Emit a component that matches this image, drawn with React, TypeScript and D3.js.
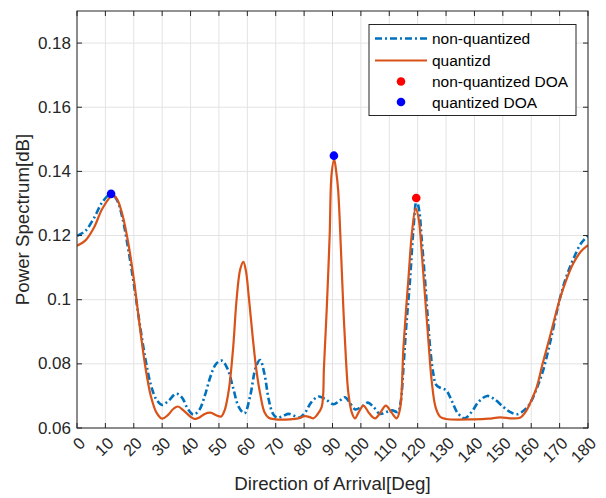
import React from "react";
import * as d3 from "d3";

const xTicks = [0, 10, 20, 30, 40, 50, 60, 70, 80, 90, 100, 110, 120, 130, 140, 150, 160, 170, 180];
const yTicks = [0.06, 0.08, 0.1, 0.12, 0.14, 0.16, 0.18];
const yTickLabels = ["0.06", "0.08", "0.1", "0.12", "0.14", "0.16", "0.18"];

const nonQuantAngles = [0, 3, 6, 9, 12, 14, 16, 18, 20, 22, 24, 26, 28, 30, 32, 35, 37, 39, 41, 43, 45, 47, 49, 51, 53, 55, 57, 59, 61, 63, 64.5, 66, 67.5, 69, 70.5, 72.5, 74.5, 76.5, 78.5, 80.5, 82.5, 85, 87.5, 90.3, 92.5, 94.4, 96, 98, 100, 102.5, 104.5, 106.7, 109, 111, 113, 114, 115, 116, 117.3, 118.5, 119.6, 120.5, 121.5, 122.6, 123.5, 124.5, 125.5, 126.5, 128, 130, 132, 134, 136.5, 139, 141.5, 144.5, 147, 150, 152.5, 155, 157.5, 159.6, 162, 164.2, 167, 170, 172.5, 175, 177.5, 180];
const nonQuantValues = [0.1199, 0.1215, 0.1255, 0.1305, 0.133, 0.1312, 0.1255, 0.116, 0.105, 0.093, 0.082, 0.0735, 0.0688, 0.0672, 0.0683, 0.0707, 0.0695, 0.066, 0.0642, 0.0655, 0.07, 0.076, 0.08, 0.081, 0.0785, 0.0725, 0.0665, 0.0646, 0.07, 0.079, 0.0812, 0.077, 0.069, 0.0645, 0.0632, 0.0637, 0.0644, 0.0638, 0.0633, 0.065, 0.068, 0.0698, 0.069, 0.0674, 0.0685, 0.0696, 0.068, 0.0658, 0.0665, 0.0679, 0.0665, 0.0644, 0.065, 0.0655, 0.065, 0.068, 0.079, 0.092, 0.106, 0.122, 0.131, 0.128, 0.118, 0.106, 0.095, 0.084, 0.077, 0.0735, 0.0725, 0.0718, 0.0685, 0.0648, 0.063, 0.065, 0.0682, 0.07, 0.069, 0.0667, 0.065, 0.0643, 0.0655, 0.0677, 0.0725, 0.078, 0.088, 0.1, 0.1075, 0.113, 0.1175, 0.1199];

const quantAngles = [0, 3, 6, 9, 12.5, 14, 16, 18, 20, 22, 24, 26, 28, 30, 32, 34, 35.5, 37.5, 40, 41.5, 43, 45, 47, 49, 50.8, 52, 53.5, 55, 56.2, 57.5, 58.6, 59.5, 60.5, 62, 63.2, 64.5, 66, 67.5, 70, 75, 78, 80.3, 82, 83.2, 84.5, 86.2, 87, 88, 89, 89.7, 90.6, 91.3, 92, 93, 93.8, 94.7, 95.6, 96.8, 97.9, 99.3, 100.9, 103, 105, 107, 108.8, 110.8, 112.6, 113.8, 115, 116, 116.7, 118, 119.3, 120.3, 121.5, 122.6, 123.8, 124.9, 126.3, 127.9, 130, 140, 145, 149, 153, 156, 158, 160, 162, 164, 166.6, 170, 172.5, 174.8, 177.5, 180];
const quantValues = [0.1168, 0.1185, 0.1225, 0.1285, 0.1325, 0.1315, 0.1265, 0.118, 0.1065, 0.0925, 0.0795, 0.07, 0.0648, 0.0629, 0.064, 0.066, 0.0667, 0.0655, 0.0635, 0.0628, 0.0632, 0.0644, 0.0648, 0.064, 0.0636, 0.0655, 0.072, 0.085, 0.0999, 0.1095, 0.1118, 0.109, 0.101, 0.0874, 0.078, 0.0708, 0.065, 0.0632, 0.0627, 0.0627, 0.063, 0.0637, 0.0634, 0.063, 0.064, 0.0666, 0.079, 0.0978, 0.12, 0.1394, 0.1437, 0.14, 0.134, 0.115, 0.0978, 0.082, 0.0708, 0.0648, 0.063, 0.065, 0.067, 0.0645, 0.063, 0.065, 0.067, 0.0648, 0.063, 0.066, 0.0853, 0.098, 0.106, 0.121, 0.1285, 0.1255, 0.114, 0.101, 0.087, 0.075, 0.0665, 0.0635, 0.0628, 0.0627, 0.0629, 0.0633, 0.063, 0.0632, 0.065, 0.0685, 0.0729, 0.08, 0.0885, 0.1, 0.1065, 0.1113, 0.115, 0.117];

const nonQuantDoaAngles = [119.5];
const nonQuantDoaValues = [0.1317];
const quantDoaAngles = [12, 90.5];
const quantDoaValues = [0.133, 0.1449];

const legendLabels = ["non-quantized", "quantizd", "non-quantized DOA", "quantized DOA"];

const W = 606, H = 498;
const M = { left: 77, right: 588, top: 11, bottom: 428 };
const BLUE = "#0072BD";
const ORANGE = "#D95319";
const AX = "#262626";
const FONT = "'Liberation Sans', Arial, Helvetica, sans-serif";

export default function App() {
  const x = d3.scaleLinear().domain([0, 180]).range([M.left, M.right]);
  const y = d3.scaleLinear().domain([0.06, 0.19]).range([M.bottom, M.top]);
  const line = d3
    .line<[number, number]>()
    .x((d) => x(d[0]))
    .y((d) => y(d[1]))
    .curve(d3.curveCatmullRom.alpha(0.5));
  const bluePath = line(nonQuantAngles.map((a, i) => [a, nonQuantValues[i]]) as [number, number][]) || "";
  const orangePath = line(quantAngles.map((a, i) => [a, quantValues[i]]) as [number, number][]) || "";
  const tl = 5;
  const lg = { x: 369, y: 24.5, w: 207, h: 91 };
  const rows = [38.5, 60.5, 81.5, 102];
  return (
    <div style={{ position: "fixed", left: 0, top: 0 }}>
      <svg width={W} height={H} style={{ display: "block", background: "#fff" }} fontFamily={FONT}>
        <rect x={0} y={0} width={W} height={H} fill="#fff" />
        <defs>
          <clipPath id="plotclip">
            <rect x={M.left} y={M.top} width={M.right - M.left} height={M.bottom - M.top} />
          </clipPath>
        </defs>
        {/* grid */}
        {xTicks.map((t) => (
          <line key={"gx" + t} x1={x(t)} x2={x(t)} y1={M.top} y2={M.bottom} stroke="#e3e3e3" strokeWidth={1} />
        ))}
        {yTicks.map((t) => (
          <line key={"gy" + t} x1={M.left} x2={M.right} y1={y(t)} y2={y(t)} stroke="#e3e3e3" strokeWidth={1} />
        ))}
        {/* curves */}
        <g clipPath="url(#plotclip)">
          <path d={bluePath} fill="none" stroke={BLUE} strokeWidth={2.6} strokeDasharray="7,3,2,3" />
          <path d={orangePath} fill="none" stroke={ORANGE} strokeWidth={2.2} />
        </g>
        {/* DOA markers */}
        {nonQuantDoaAngles.map((a, i) => (
          <circle key={"r" + i} cx={x(a)} cy={y(nonQuantDoaValues[i])} r={4.3} fill="#ff0000" />
        ))}
        {quantDoaAngles.map((a, i) => (
          <circle key={"b" + i} cx={x(a)} cy={y(quantDoaValues[i])} r={4.3} fill="#0000ff" />
        ))}
        {/* box and ticks */}
        <rect x={M.left} y={M.top} width={M.right - M.left} height={M.bottom - M.top} fill="none" stroke={AX} strokeWidth={1} />
        {xTicks.map((t) => (
          <g key={"tx" + t}>
            <line x1={x(t)} x2={x(t)} y1={M.bottom} y2={M.bottom - tl} stroke={AX} />
            <line x1={x(t)} x2={x(t)} y1={M.top} y2={M.top + tl} stroke={AX} />
          </g>
        ))}
        {yTicks.map((t) => (
          <g key={"ty" + t}>
            <line x1={M.left} x2={M.left + tl} y1={y(t)} y2={y(t)} stroke={AX} />
            <line x1={M.right} x2={M.right - tl} y1={y(t)} y2={y(t)} stroke={AX} />
          </g>
        ))}
        {/* tick labels */}
        {xTicks.map((t) => (
          <text
            key={"lx" + t}
            transform={`translate(${x(t) + 5},${M.bottom + 12}) rotate(-45)`}
            textAnchor="end"
            dominantBaseline="central"
            fontSize={16.5}
            fill={AX}
          >
            {String(t)}
          </text>
        ))}
        {yTicks.map((t, i) => (
          <text key={"ly" + t} x={M.left - 6} y={y(t)} textAnchor="end" dominantBaseline="central" fontSize={17} fill={AX}>
            {yTickLabels[i]}
          </text>
        ))}
        {/* axis labels */}
        <text x={(M.left + M.right) / 2} y={490} textAnchor="middle" fontSize={18.7} fill={AX}>
          Direction of Arrival[Deg]
        </text>
        <text
          transform={`translate(29,${(M.top + M.bottom) / 2}) rotate(-90)`}
          textAnchor="middle"
          fontSize={18.7}
          fill={AX}
        >
          Power Spectrum[dB]
        </text>
        {/* legend */}
        <rect x={lg.x} y={lg.y} width={lg.w} height={lg.h} fill="#fff" stroke={AX} strokeWidth={1} />
        <line x1={375} x2={427} y1={rows[0]} y2={rows[0]} stroke={BLUE} strokeWidth={2.6} strokeDasharray="7,3,2,3" />
        <line x1={375} x2={427} y1={rows[1]} y2={rows[1]} stroke={ORANGE} strokeWidth={2.2} />
        <circle cx={401} cy={rows[2]} r={4.3} fill="#ff0000" />
        <circle cx={401} cy={rows[3]} r={4.3} fill="#0000ff" />
        {legendLabels.map((l, i) => (
          <text key={l} x={432} y={rows[i]} dominantBaseline="central" fontSize={15.5} fill="#000">
            {l}
          </text>
        ))}
      </svg>
    </div>
  );
}
